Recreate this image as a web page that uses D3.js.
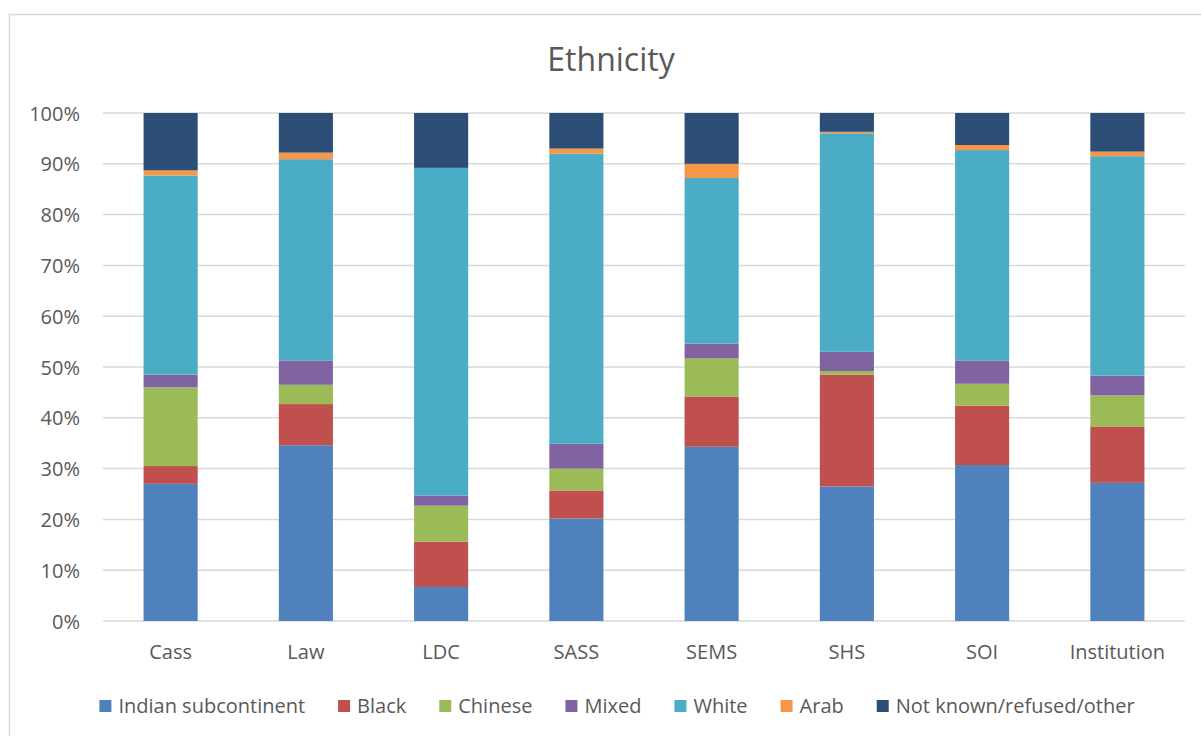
<!DOCTYPE html>
<html lang="en">
<head>
  <meta charset="UTF-8">
  <title>Ethnicity</title>
  <script src="https://d3js.org/d3.v7.min.js"></script>
  <style>
    body { margin: 0; background: #fff; }
    text { font-family: "Open Sans", "Noto Sans", sans-serif; fill: #595959; }
  </style>
</head>
<body>
  <svg width="1201" height="736"></svg>

  <script>
    // Categories along the x axis
    const schools = ["Cass", "Law", "LDC", "SASS", "SEMS", "SHS", "SOI", "Institution"];

    // Series names (legend order = stacking order, bottom up)
    const groups = ["Indian subcontinent", "Black", "Chinese", "Mixed", "White", "Arab", "Not known/refused/other"];

    // Percent shares per school
    const indian  = [27.0, 34.6,  6.7, 20.2, 34.3, 26.5, 30.7, 27.2];
    const black   = [ 3.5,  8.1,  8.9,  5.5,  9.9, 22.0, 11.7, 11.1];
    const chinese = [15.5,  3.8,  7.1,  4.3,  7.5,  0.7,  4.3,  6.1];
    const mixed   = [ 2.5,  4.8,  2.0,  4.9,  2.9,  3.8,  4.6,  3.9];
    const white   = [39.2, 39.6, 64.5, 57.1, 32.6, 43.0, 41.4, 43.2];
    const arab    = [ 1.0,  1.3,  0.0,  1.0,  2.8,  0.3,  1.0,  0.9];
    const other   = [11.3,  7.8, 10.8,  7.0, 10.0,  3.7,  6.3,  7.6];

    const yTicks = [0, 10, 20, 30, 40, 50, 60, 70, 80, 90, 100];

    const colors = ["#4F81BD", "#C0504D", "#9BBB59", "#8064A2", "#4BACC6", "#F79646", "#2C4D75"];

    const series = [indian, black, chinese, mixed, white, arab, other];

    // Build a table for d3.stack
    const table = schools.map((s, i) => {
      const row = { school: s };
      groups.forEach((g, k) => { row[g] = series[k][i]; });
      return row;
    });

    const svg = d3.select("svg");
    const margin = {top: 113, right: 16, bottom: 115, left: 103};
    const width = 1201, height = 736;

    // Chart frame
    svg.append("rect")
      .attr("x", 9.5).attr("y", 14.5)
      .attr("width", 1200).attr("height", 730)
      .attr("fill", "none")
      .attr("stroke", "#D9D9D9")
      .attr("stroke-width", 1.5);

    // Title
    svg.append("text")
      .attr("x", 611).attr("y", 71)
      .attr("text-anchor", "middle")
      .style("font-size", "32px")
      .text("Ethnicity");

    const xScale = d3.scaleBand()
      .domain(schools)
      .range([margin.left, width - margin.right])
      .paddingInner(0.6)
      .paddingOuter(0.3);

    const yScale = d3.scaleLinear()
      .domain([0, 100])
      .range([621, 113]);

    // Gridlines
    svg.append("g")
      .selectAll("line")
      .data(yTicks)
      .enter()
      .append("line")
      .attr("x1", margin.left)
      .attr("x2", width - margin.right)
      .attr("y1", d => yScale(d))
      .attr("y2", d => yScale(d))
      .attr("stroke", "#D9D9D9")
      .attr("stroke-width", 1.5);

    // Y axis labels
    const yAxis = svg.append("g")
      .attr("transform", `translate(${margin.left - 23},0)`)
      .call(d3.axisLeft(yScale).tickValues(yTicks).tickFormat(d => d + "%").tickSize(0));
    yAxis.select(".domain").remove();
    yAxis.selectAll("text")
      .attr("x", 0)
      .attr("dy", "0.35em")
      .style("font-size", "20px")
      .style("fill", "#595959")
      .style("font-family", "\"Open Sans\", sans-serif");

    // Stacked bars
    const stacked = d3.stack().keys(groups)(table);

    svg.selectAll("g.layer")
      .data(stacked)
      .enter()
      .append("g")
      .attr("class", "layer")
      .attr("fill", (d, i) => colors[i])
      .selectAll("rect")
      .data(d => d)
      .enter()
      .append("rect")
      .attr("x", d => xScale(d.data.school))
      .attr("y", d => yScale(d[1]))
      .attr("width", xScale.bandwidth())
      .attr("height", d => yScale(d[0]) - yScale(d[1]));

    // X axis labels
    const xAxis = svg.append("g")
      .attr("transform", `translate(0,621)`)
      .call(d3.axisBottom(xScale).tickSize(0));
    xAxis.select(".domain").remove();
    xAxis.selectAll("text")
      .attr("y", 31)
      .attr("dy", "0.35em")
      .style("font-size", "20px")
      .style("fill", "#595959")
      .style("font-family", "\"Open Sans\", sans-serif");

    // Legend
    const legend = svg.append("g").attr("transform", "translate(0,706)");
    const items = legend.selectAll("g")
      .data(groups)
      .enter()
      .append("g");
    items.append("rect")
      .attr("width", 12).attr("height", 12)
      .attr("y", -6)
      .attr("fill", (d, i) => colors[i]);
    items.append("text")
      .attr("x", 19)
      .attr("dy", "0.35em")
      .style("font-size", "20px")
      .text(d => d);

    let widths = [];
    items.each(function() { widths.push(this.querySelector("text").getComputedTextLength() + 19); });
    const gap = 33;
    const total = d3.sum(widths) + gap * (widths.length - 1);
    let cx = 617 - total / 2;
    items.attr("transform", (d, i) => {
      const t = `translate(${cx},0)`;
      cx += widths[i] + gap;
      return t;
    });
  </script>
</body>
</html>
